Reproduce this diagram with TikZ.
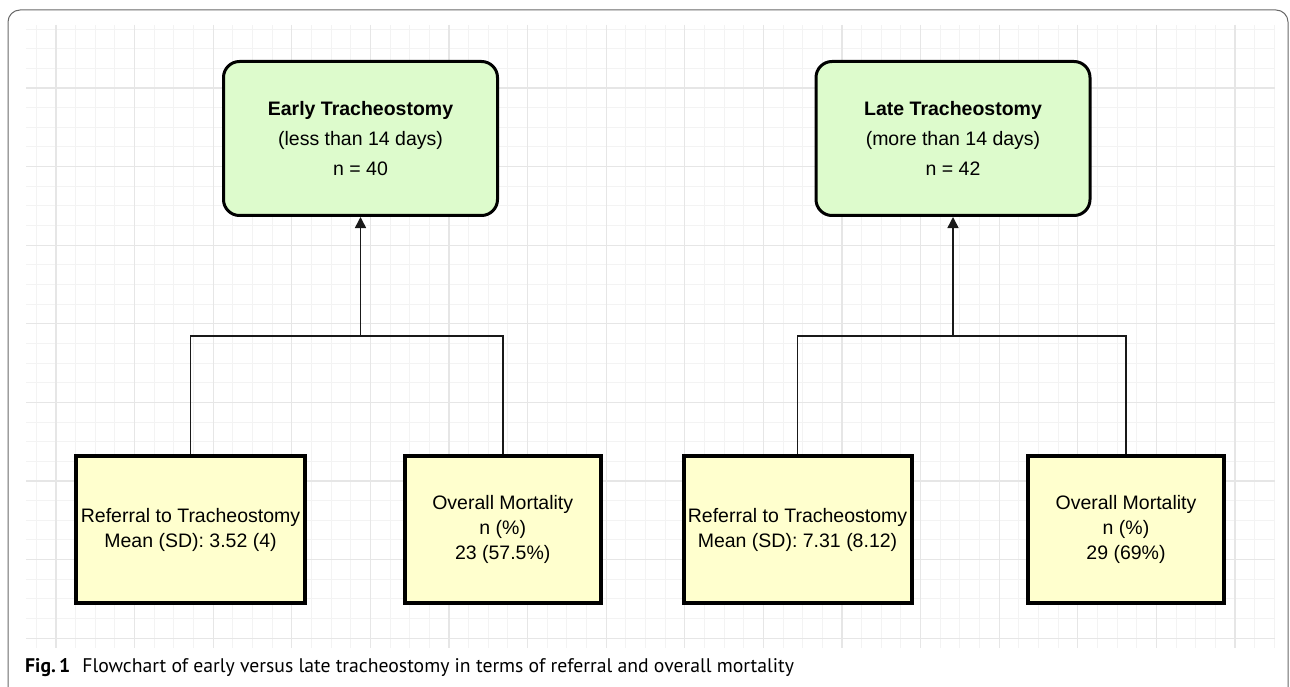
\documentclass[tikz,border=0pt]{standalone}
\usepackage{fontspec}
\setmainfont{Liberation Sans}
\newfontfamily\capfont{PT Sans}
\usetikzlibrary{arrows.meta}
\definecolor{gridminor}{RGB}{243,243,243}
\definecolor{gridmajor}{RGB}{230,230,230}
\definecolor{greenfill}{RGB}{221,251,204}
\definecolor{yellowfill}{RGB}{255,255,206}
\definecolor{framegray}{RGB}{105,105,105}
\begin{document}
\begin{tikzpicture}[x=1pt,y=-1pt,
  greenbox/.style={draw=black, line width=3pt, fill=greenfill, rounded corners=16pt,
    minimum width=274pt, minimum height=154pt, align=center, inner sep=0pt,
    font=\fontsize{19.5}{30}\selectfont},
  yellowbox/.style={draw=black, line width=4pt, fill=yellowfill, minimum height=147pt,
    align=center, inner sep=0pt, font=\fontsize{19.5}{25}\selectfont},
  conn/.style={line width=1.5pt, draw=black!90},
  arrowconn/.style={conn, -{Triangle[width=11pt,length=11pt]}},
  minorline/.style={draw=gridminor, line width=1pt},
  majorline/.style={draw=gridmajor, line width=1.3pt},
]
\useasboundingbox (0,0) rectangle (1290,687);
\clip (0,0) rectangle (1290,687);
% outer frame
\draw[framegray, line width=1pt, rounded corners=12pt] (8,10) rectangle (1288,700);
% grid
\begin{scope}
\clip (26,25) rectangle (1275,648);
\foreach \i in {-2,...,63} \draw[minorline] ({56+19.65*\i},25) -- ({56+19.65*\i},648);
\foreach \j in {-3,...,29} \draw[minorline] (26,{88+19.65*\j}) -- (1275,{88+19.65*\j});
\foreach \i in {0,4,...,60} \draw[majorline] ({56+19.65*\i},25) -- ({56+19.65*\i},648);
\foreach \j in {0,4,...,28} \draw[majorline] (26,{88+19.65*\j}) -- (1275,{88+19.65*\j});
\end{scope}
% top boxes
\node[greenbox] (early) at (360.5,138.5) {\textbf{Early Tracheostomy}\\(less than 14 days)\\n = 40};
\node[greenbox] (late) at (953,138.5) {\textbf{Late Tracheostomy}\\(more than 14 days)\\n = 42};
% bottom boxes
\node[yellowbox, minimum width=229pt] (ref1) at (190.5,529.5) {Referral to Tracheostomy\\Mean (SD): 3.52 (4)};
\node[yellowbox, minimum width=196pt] (mort1) at (502.75,529.5) {Overall Mortality\\n (\%)\\23 (57.5\%)};
\node[yellowbox, minimum width=228pt] (ref2) at (797.5,529.5) {Referral to Tracheostomy\\Mean (SD): 7.31 (8.12)};
\node[yellowbox, minimum width=196pt] (mort2) at (1126,529.5) {Overall Mortality\\n (\%)\\29 (69\%)};
% connectors
\coordinate (j1) at (360.5,336);
\coordinate (j2) at (953,336);
\draw[conn] (ref1.north) |- (j1);
\draw[conn] (mort1.north) |- (j1);
\draw[arrowconn] (j1) -- (early.south);
\draw[conn] (ref2.north) |- (j2);
\draw[conn] (mort2.north) |- (j2);
\draw[arrowconn] (j2) -- (late.south);
% caption
\node[anchor=west, inner sep=0pt, font=\capfont\fontsize{19.7}{21}\selectfont] (caption) at (25,668)
  {\textbf{Fig.\,1}\hspace{12pt}Flowchart of early versus late tracheostomy in terms of referral and overall mortality};
\end{tikzpicture}
\end{document}
